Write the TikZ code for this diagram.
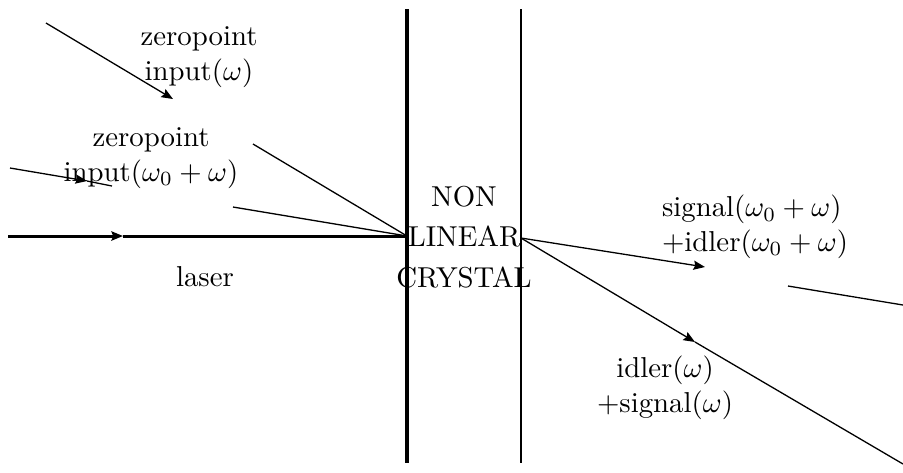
\documentclass[tikz,border=0pt]{standalone}
\usetikzlibrary{arrows.meta,positioning}
\tikzset{>={Stealth[length=4pt,width=3.2pt,inset=0.6pt]}}
\begin{document}
\begin{tikzpicture}[x=0.3472pt,y=-0.3472pt,
  beam/.style={line width=0.45pt},
  wall/.style={line width=1.05pt},
  lbl/.style={align=center,inner sep=0pt}]
\useasboundingbox (0,0) rectangle (903,472);
% crystal
\coordinate (wla) at (407,9); \coordinate (wlb) at (407,463);
\coordinate (wra) at (521,9); \coordinate (wrb) at (521,463);
\draw[wall] (wla) -- (wlb);
\draw[line width=0.75pt] (wra) -- (wrb);
\coordinate (entry) at (407,236);
\coordinate (exit) at (521,238);
\node[lbl] (crystal) at (464,237) {NON\\[2pt] LINEAR\\[2pt] CRYSTAL};
% laser
\coordinate (las) at (8,236); \coordinate (lasarr) at (123,236);
\draw[wall,->] (las) -- (lasarr);
\draw[wall] (lasarr) -- (entry);
\node[lbl] (laser) at (205,277) {laser};
% zeropoint inputs
\coordinate (zpa) at (46,23); \coordinate (zpaarr) at (173,99);
\coordinate (zpab) at (253,144);
\draw[beam,->] (zpa) -- (zpaarr);
\draw[beam] (zpab) -- (entry);
\node[lbl] (zpalbl) at (199,57) {zeropoint\\ input$(\omega)$};
\coordinate (zpb) at (10,168); \coordinate (zpbarr) at (87,181);
\coordinate (zpbend) at (112,186); \coordinate (zpbb) at (233,207);
\draw[beam,->] (zpb) -- (zpbarr);
\draw[beam] (zpbarr) -- (zpbend);
\draw[beam] (zpbb) -- (entry);
\node[lbl] (zpblbl) at (151,158) {zeropoint\\ input$(\omega_0+\omega)$};
% outputs
\coordinate (sigarr) at (705,267);
\coordinate (sigb) at (788,286); \coordinate (sigend) at (903,305);
\draw[beam,->] (exit) -- (sigarr);
\draw[beam] (sigb) -- (sigend);
\node[lbl,align=left] (siglbl) at (755,227) {signal$(\omega_0+\omega)$\\ $+$idler$(\omega_0+\omega)$};
\coordinate (idlarr) at (695,342); \coordinate (idlend) at (903,464);
\draw[beam,->] (exit) -- (idlarr);
\draw[beam] (idlarr) -- (idlend);
\node[lbl] (idllbl) at (665,388) {idler$(\omega)$\\ $+$signal$(\omega)$};
\end{tikzpicture}
\end{document}
